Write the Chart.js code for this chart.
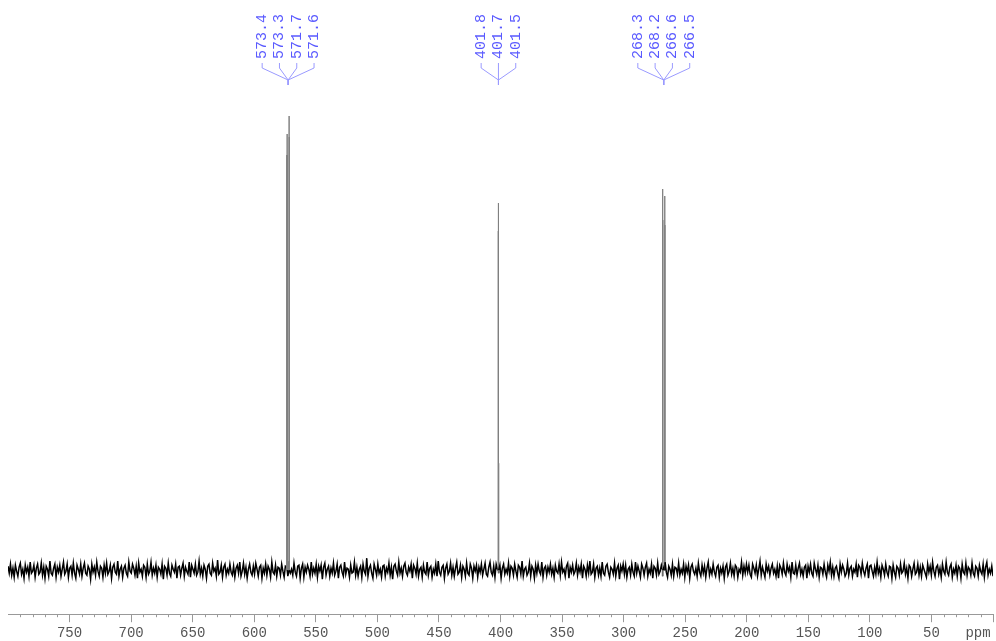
<!DOCTYPE html>
<html><head><meta charset="utf-8">
<script src="https://cdn.jsdelivr.net/npm/chart.js@4/dist/chart.umd.min.js"></script>
<style>html,body{margin:0;padding:0;background:#fff;overflow:hidden}#wrap{width:996px;height:641px;position:relative}</style>
</head><body><div id="wrap"><canvas id="c" width="996" height="641"></canvas></div>
<script>
// ---- data ----
const axisStartPpm = 800;
const axisEndPpm = 0;
const axisUnit = 'ppm';
const tickValues = [750, 700, 650, 600, 550, 500, 450, 400, 350, 300, 250, 200, 150, 100, 50];
const noise = [
4,-3,6,-5,2,-7,5,-1,-6,3,7,-4,1,-8,5,-2,3,-6,8,-3,
-1,5,-7,2,6,-4,-2,7,-5,3,-8,4,1,-6,9,-3,-5,2,6,-7,
3,-2,5,-6,1,8,-4,-1,6,-7,2,4,-5,7,-3,-8,5,1,-4,6,
-6,2,7,-3,-5,4,1,-9,6,-2,3,-5,8,-1,-6,4,2,-7,5,-3,
7,-4,-1,5,-8,3,6,-2,-4,9,-6,1,4,-7,2,5,-3,-6,8,-1,
-3,6,2,-5,4,-8,7,-2,1,-6,5,3,-7,6,-4,-1,8,-5,2,-3,
5,-7,3,1,-4,6,-9,4,2,-5,7,-3,-6,5,1,-2,6,-8,3,4,
-5,2,7,-6,3,-1,-4,8,-7,5,1,-3,6,-5,-2,9,-4,2,-6,5,
1,-8,4,6,-3,-5,7,-1,2,-6,10,-4,-2,5,-7,3,6,-5,1,-3,
6,-2,-5,4,-7,2,5,-3,8,-6,-1,7,-4,3,-8,1,6,-2,-5,4,
-4,7,1,-6,3,5,-8,2,-3,6,-5,4,1,-7,8,-2,-4,5,-6,3,
2,-5,6,-1,-7,4,3,-6,9,-3,1,-5,7,-2,-6,4,5,-8,2,6,
-7,3,-2,5,1,-6,8,-4,2,-3,6,-7,4,-1,5,-9,3,7,-5,1,
4,-6,2,-3,7,-5,-1,6,-8,3,5,-2,-6,8,-4,2,1,-7,5,-3,
-2,8,-5,3,-6,1,4,-7,6,-1,-4,12,-6,2,5,-3,-8,6,1,-5,
6,-3,1,-7,4,5,-6,2,-2,7,-5,3,-9,4,6,-1,-5,8,-3,2,
-6,4,7,-2,-5,3,-1,6,-8,5,2,-4,7,-6,1,3,-7,5,-2,-4,
8,-5,2,4,-7,1,-3,6,-6,9,-2,-5,3,5,-8,2,6,-4,-1,7,
-5,3,-6,2,8,-4,-2,5,-7,4,1,-6,7,-3,-5,6,2,-8,4,-1,
5,-7,3,-2,6,-5,1,7,-4,-6,3,8,-2,-5,4,-7,6,1,-3,5,
-8,2,6,-4,1,-3,7,-6,4,2,-5,6,-1,-7,5,3,-4,9,-6,1,
3,-5,-2,7,-6,4,1,-8,5,-3,6,-1,-4,8,-7,2,4,-5,3,-2,
6,-4,2,-7,5,-1,-3,6,-5,8,-2,1,-6,4,7,-8,3,-2,5,-4,
-1,7,-5,3,-2,6,-8,4,1,-6,5,-3,9,-4,-2,6,-7,2,4,-5,
2,-6,8,-3,-5,4,6,-2,-7,3,1,-4,7,-6,2,5,-9,4,-1,6,
-4,5,-7,1,3,-5,6,-2,-6,8,-3,4,-1,-7,6,2,-5,3,7,-6,
1,-3,6,-8,4,2,-5,7,-4,-1,5,-6,3,8,-2,-7,4,1,-5,6,
-6,3,2,-4,7,-5,1,-3,6,-7,4,-2,5,-8,3,6,-1,-4,2,-6,
7,-2,-6,5,-3,4,-7,2,8,-5,1,-4,6,-2,-6,3,5,-7,2,-3,
4,-8,3,6,-5,-1,7,-4,2,-6,5,3,-7,1,-2,8,-5,4,-3,6,
-2,5,-4,-7,6,2,-3,5,-6,1,9,-5,3,-2,-7,6,-1,4,-5,2,
6,-3,1,-6,4,-8,5,2,-4,7,-2,-5,6,-1,3,-7,8,-3,-4,5,
-5,2,7,-4,1,-6,3,5,-8,4,-2,6,-3,-6,7,1,-4,5,-7,3,
2,-4,6,-2,-7,5,-1,8,-5,3,-6,2,4,-3,-8,6,-2,5,1,-6,
-3,7,-5,2,4,-6,1,-2,6,-7,5,3,-4,7,-1,-5,2,6,-8,4,
5,-1,-6,3,-4,8,-3,2,-7,5,1,-5,6,-2,-6,4,3,-8,5,-2,
-7,4,2,-5,6,-3,-1,7,-4,2,-8,5,3,-6,1,7,-4,-2,6,-5,
3,-6,5,1,-3,-7,6,-2,4,-5,8,-1,-6,3,5,-4,2,-7,6,-1,
-4,8,-2,-5,3,6,-7,1,-3,5,-6,4,2,-8,6,-2,-4,7,-5,3,
1,-5,7,-3,-6,4,2,-6,5,-1,-4,6,-7,3,8,-5,1,-3,4,-6
];
const peakPpm =    [573.4, 573.3, 571.7, 571.6, 401.8, 401.7, 401.5, 268.3, 268.2, 266.6, 266.5];
const peakHeight = [415,   436,   454,   433,   339,   367,   107,   381,   350,   374,   345];
const labelGroups = [
  ['573.4', '573.3', '571.7', '571.6'],
  ['401.8', '401.7', '401.5'],
  ['268.3', '268.2', '266.6', '266.5']
];

// ---- build spectrum points ----
const pts = [];
const step = (axisStartPpm - axisEndPpm) / (noise.length - 1);
noise.forEach((v, i) => pts.push({x: axisStartPpm - i * step, y: v}));
peakPpm.forEach((p, i) => {
  pts.push({x: p + 0.04, y: 0});
  pts.push({x: p, y: peakHeight[i]});
  pts.push({x: p - 0.04, y: 0});
});
pts.sort((a, b) => b.x - a.x);

const MONO = '"Liberation Mono", "DejaVu Sans Mono", monospace';

const extras = {
  id: 'extras',
  afterDraw(chart) {
    const ctx = chart.ctx, xs = chart.scales.x, area = chart.chartArea;
    ctx.save();
    // minor ticks
    ctx.strokeStyle = '#999';
    ctx.lineWidth = 1;
    ctx.beginPath();
    for (let v = axisEndPpm; v <= axisStartPpm; v += 10) {
      if (v % 50 === 0) continue;
      const px = Math.round(xs.getPixelForValue(v)) + 0.5;
      ctx.moveTo(px, area.bottom);
      ctx.lineTo(px, area.bottom + 3);
    }
    ctx.stroke();
    // unit label
    ctx.fillStyle = '#555';
    ctx.font = '14px ' + MONO;
    ctx.textAlign = 'center';
    ctx.textBaseline = 'middle';
    ctx.fillText(axisUnit, 978, 633);
    // peak annotations
    const spacing = 17.3;
    labelGroups.forEach(g => {
      const mean = g.reduce((s, t) => s + parseFloat(t), 0) / g.length;
      const xc = xs.getPixelForValue(mean);
      ctx.strokeStyle = '#9a9aff';
      ctx.lineWidth = 1;
      g.forEach((t, i) => {
        const xi = xc + (i - (g.length - 1) / 2) * spacing;
        ctx.beginPath();
        ctx.moveTo(xi, 63);
        ctx.lineTo(xi, 68);
        ctx.lineTo(xc, 80);
        ctx.lineTo(xc, 85);
        ctx.stroke();
        ctx.save();
        ctx.translate(xi, 59);
        ctx.rotate(-Math.PI / 2);
        ctx.fillStyle = '#5a5aff';
        ctx.font = '15px ' + MONO;
        ctx.textAlign = 'left';
        ctx.textBaseline = 'middle';
        ctx.fillText(t, 0, 0);
        ctx.restore();
      });
    });
    ctx.restore();
  }
};

const isPeakSeg = c => c.p0.parsed.y > 40 || c.p1.parsed.y > 40;

new Chart(document.getElementById('c'), {
  type: 'line',
  data: {
    datasets: [{
      data: pts,
      borderColor: '#000',
      borderWidth: 1.5,
      pointRadius: 0,
      tension: 0,
      fill: false,
      segment: {
        borderColor: c => isPeakSeg(c) ? '#808080' : '#000',
        borderWidth: c => isPeakSeg(c) ? 1 : 1.5
      }
    }]
  },
  options: {
    responsive: false,
    animation: false,
    events: [],
    layout: {padding: {left: 8, right: 3, top: 100, bottom: -4}},
    plugins: {legend: {display: false}, tooltip: {enabled: false}},
    scales: {
      x: {
        type: 'linear',
        reverse: true,
        min: axisEndPpm,
        max: axisStartPpm,
        border: {display: true, color: '#999', width: 1},
        grid: {
          drawOnChartArea: false,
          tickLength: 8,
          tickColor: c => (c.tick && c.tick.value === axisStartPpm) ? 'rgba(0,0,0,0)' : '#999'
        },
        ticks: {
          stepSize: 50,
          autoSkip: false,
          maxRotation: 0,
          color: '#555',
          font: {family: MONO, size: 14},
          callback: v => tickValues.includes(v) ? String(v) : ''
        }
      },
      y: {display: false, min: -44, max: 470}
    }
  },
  plugins: [extras]
});
</script>
</body></html>
